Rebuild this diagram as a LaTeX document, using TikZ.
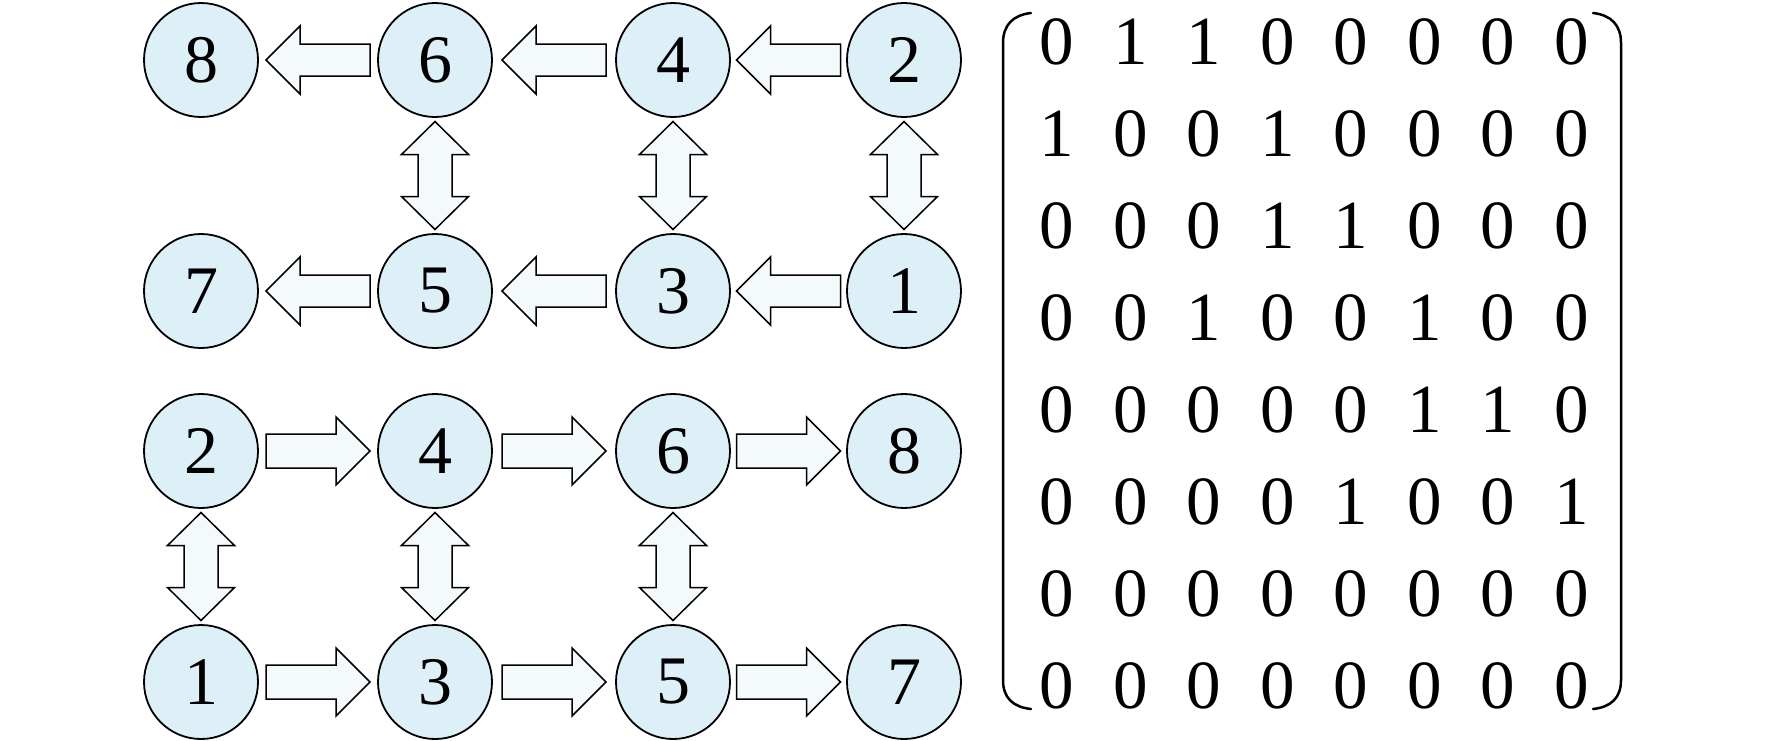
\documentclass[tikz,border=0pt]{standalone}
\usepackage{fontspec}
\setmainfont{Liberation Serif}
\usetikzlibrary{calc}
\definecolor{cfill}{HTML}{DDEFF7}
\definecolor{afill}{HTML}{F4F9FC}
\tikzset{
 nd/.style={circle, draw=black, line width=1.8pt, fill=cfill, minimum size=114pt, inner sep=0pt, outer sep=0pt, font=\fontsize{68}{68}\selectfont},
 fat/.style={draw=black, line width=1.5pt, fill=afill, line join=miter},
 mx/.style={font=\fontsize{69}{69}\selectfont, inner sep=0pt},
 brk/.style={draw=black, line width=2.5pt, line cap=round}
}
% #1 tail node, #2 head node
\newcommand\arrL[2]{\draw[fat] ($(#1.west)!0.5!(#2.east)+(-52,0)$) -- ++(34,-34) -- ++(0,18) -- ++(70,0) -- ++(0,32) -- ++(-70,0) -- ++(0,18) -- cycle;}
\newcommand\arrR[2]{\draw[fat] ($(#1.east)!0.5!(#2.west)+(-52,0)$) -- ++(0,-17) -- ++(70,0) -- ++(0,-17) -- ++(34,34) -- ++(-34,34) -- ++(0,-17) -- ++(-70,0) -- cycle;}
\newcommand\arrV[2]{\draw[fat] ($(#1.south)!0.5!(#2.north)+(0,-54)$) -- ++(33.5,33) -- ++(-16.5,0) -- ++(0,42) -- ++(16.5,0) -- ++(-33.5,33) -- ++(-33.5,-33) -- ++(16.5,0) -- ++(0,-42) -- ++(-16.5,0) -- cycle;}
\begin{document}
\begin{tikzpicture}[x=1pt,y=-1pt]
\useasboundingbox (0,0) rectangle (1772,740);
% top block
\node[nd] (a8) at (201,60) {8};
\node[nd] (a6) at (435,60) {6};
\node[nd] (a4) at (673,60) {4};
\node[nd] (a2) at (904,60) {2};
\node[nd] (a7) at (201,291) {7};
\node[nd] (a5) at (435,291) {5};
\node[nd] (a3) at (673,291) {3};
\node[nd] (a1) at (904,291) {1};
% bottom block
\node[nd] (b2) at (201,451) {2};
\node[nd] (b4) at (435,451) {4};
\node[nd] (b6) at (673,451) {6};
\node[nd] (b8) at (904,451) {8};
\node[nd] (b1) at (201,682) {1};
\node[nd] (b3) at (435,682) {3};
\node[nd] (b5) at (673,682) {5};
\node[nd] (b7) at (904,682) {7};
% top arrows
\arrL{a6}{a8} \arrL{a4}{a6} \arrL{a2}{a4}
\arrL{a5}{a7} \arrL{a3}{a5} \arrL{a1}{a3}
\arrV{a6}{a5} \arrV{a4}{a3} \arrV{a2}{a1}
% bottom arrows
\arrR{b2}{b4} \arrR{b4}{b6} \arrR{b6}{b8}
\arrR{b1}{b3} \arrR{b3}{b5} \arrR{b5}{b7}
\arrV{b2}{b1} \arrV{b4}{b3} \arrV{b6}{b5}
% matrix
\foreach \row [count=\r from 0] in {{0,1,1,0,0,0,0,0},{1,0,0,1,0,0,0,0},{0,0,0,1,1,0,0,0},{0,0,1,0,0,1,0,0},{0,0,0,0,0,1,1,0},{0,0,0,0,1,0,0,1},{0,0,0,0,0,0,0,0},{0,0,0,0,0,0,0,0}}{
  \foreach \v [count=\c from 0] in \row {
    \node[mx] (m-\r-\c) at (1057+73.5*\c, 42+92*\r) {\v};
  }
}
\draw[brk] (1031,13) .. controls (1013,15) and (1003,25) .. (1003,43) -- (1003,680) .. controls (1003,698) and (1013,707) .. (1031,709);
\draw[brk] (1593,13) .. controls (1611,15) and (1621,25) .. (1621,43) -- (1621,680) .. controls (1621,698) and (1611,707) .. (1593,709);
\end{tikzpicture}
\end{document}
